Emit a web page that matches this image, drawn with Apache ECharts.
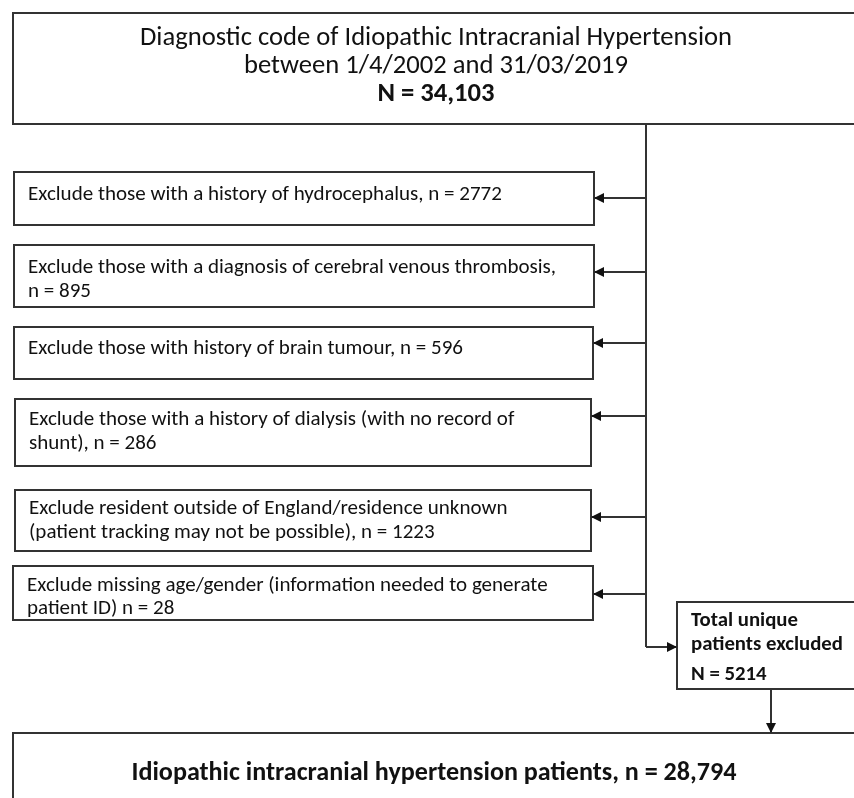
<!DOCTYPE html>
<html><head><meta charset="utf-8">
<script src="https://cdn.jsdelivr.net/npm/echarts@6/dist/echarts.min.js"></script>
<style>html,body{margin:0;padding:0;background:#fff}#c{width:854px;height:798px}</style>
</head><body><div id="c"></div>
<script>
// ---------------- data ----------------
const totalCoded = 34103;
const periodStart = '1/4/2002';
const periodEnd = '31/03/2019';
const exclusionTemplates = [
  ['Exclude those with a history of hydrocephalus, n = {n}'],
  ['Exclude those with a diagnosis of cerebral venous thrombosis,', 'n = {n}'],
  ['Exclude those with history of brain tumour, n = {n}'],
  ['Exclude those with a history of dialysis (with no record of', 'shunt), n = {n}'],
  ['Exclude resident outside of England/residence unknown', '(patient tracking may not be possible), n = {n}'],
  ['Exclude missing age/gender (information needed to generate', 'patient ID) n = {n}']
];
const exclusionCounts = [2772, 895, 596, 286, 1223, 28];
const totalExcluded = 5214;
const finalCount = 28794;

// ---------------- layout (positions in chart units = px) ----------------
const topBox = [13, 13, 862, 124];
const topBaselines = [44, 72, 100];
const topCenterX = 436;
const exclBoxes = [[14,172,594,225],[14,245,594,307],[14,327,593,379],[15,399,591,466],[15,490,591,551],[13,566,593,620]];
const exclBaselines = [[199],[272,296],[353],[424,448],[513,537],[590,613]];
const exclArrowY = [198,272,343,416,517,594];
const spineX = 646;
const totalBox = [677, 602, 862, 689];
const totalBaselines = [625, 649, 679];
const bottomBox = [13, 733, 862, 806];
const bottomBaseline = 779;
const bottomCenterX = 434;
const downX = 771;

// ---------------- fonts ----------------
const FAMILY = 'Carlito, Lato, sans-serif';
const mctx = document.createElement('canvas').getContext('2d');
function fitSize(text, weight, target) { mctx.font = weight + ' 100px ' + FAMILY; return 100 * target / mctx.measureText(text).width; }
function midOffset(weight, size) {
  mctx.font = weight + ' ' + size + 'px ' + FAMILY; mctx.textBaseline = 'alphabetic';
  const m = mctx.measureText('Hx');
  let off = 0.38 * size;
  if (m.fontBoundingBoxAscent !== undefined) off = (m.fontBoundingBoxAscent - m.fontBoundingBoxDescent) / 2;
  return off - 3;
}
const fmt = v => v.toLocaleString('en-GB');

const topLines = ['Diagnostic code of Idiopathic Intracranial Hypertension', 'between ' + periodStart + ' and ' + periodEnd, 'N = ' + fmt(totalCoded)];
const exclLines = exclusionTemplates.map((t, i) => t.map(s => s.replace('{n}', exclusionCounts[i])));
const totalLines = ['Total unique', 'patients excluded', 'N = ' + totalExcluded];
const bottomLine = 'Idiopathic intracranial hypertension patients, n = ' + fmt(finalCount);

const topSize = fitSize(topLines[0], 'normal', 592);
const exclSize = fitSize(exclLines[0][0], 'normal', 474);
const totalSize = fitSize(totalLines[1], 'bold', 152);
const bottomSize = fitSize(bottomLine, 'bold', 605);

// ---------------- build marks ----------------
const rects = [topBox].concat(exclBoxes, [totalBox, bottomBox]);
const segs = [[spineX, topBox[3], spineX, 647, 0]];
exclBoxes.forEach((b, i) => segs.push([spineX, exclArrowY[i], b[2], exclArrowY[i], 1]));
segs.push([spineX, 647, totalBox[0], 647, 1]);
segs.push([downX, totalBox[3], downX, bottomBox[1], 1]);

const texts = []; // {value:[x, baseline], text, weight, size, align}
topLines.forEach((t, i) => texts.push({ value: [topCenterX, topBaselines[i]], text: t, weight: i === 2 ? 'bold' : 'normal', size: topSize, align: 'center' }));
exclLines.forEach((ls, i) => ls.forEach((t, j) => texts.push({ value: [exclBoxes[i][0] + 14, exclBaselines[i][j]], text: t, weight: 'normal', size: exclSize, align: 'left' })));
totalLines.forEach((t, i) => texts.push({ value: [totalBox[0] + 14, totalBaselines[i]], text: t, weight: 'bold', size: totalSize, align: 'left' }));
texts.push({ value: [bottomCenterX, bottomBaseline], text: bottomLine, weight: 'bold', size: bottomSize, align: 'center' });

const STROKE = '#333333';
const chart = echarts.init(document.getElementById('c'), null, { renderer: 'canvas' });
chart.setOption({
  animation: false,
  backgroundColor: '#ffffff',
  grid: { left: 0, right: 0, top: 0, bottom: 0 },
  xAxis: { type: 'value', min: 0, max: 854, show: false },
  yAxis: { type: 'value', min: 0, max: 798, inverse: true, show: false },
  series: [
    {
      type: 'custom', name: 'boxes', clip: false, encode: { x: [0, 2], y: [1, 3] },
      data: rects,
      renderItem: (p, api) => {
        const a = api.coord([api.value(0), api.value(1)]);
        const b = api.coord([api.value(2), api.value(3)]);
        return { type: 'rect', shape: { x: a[0], y: a[1], width: b[0] - a[0], height: b[1] - a[1] },
          style: { fill: '#fff', stroke: STROKE, lineWidth: 2 } };
      }
    },
    {
      type: 'custom', name: 'connectors', clip: false, encode: { x: [0, 2], y: [1, 3] },
      data: segs,
      renderItem: (p, api) => {
        const a = api.coord([api.value(0), api.value(1)]);
        const b = api.coord([api.value(2), api.value(3)]);
        const children = [{ type: 'line', shape: { x1: a[0], y1: a[1], x2: b[0], y2: b[1] }, style: { stroke: STROKE, lineWidth: 2 } }];
        if (api.value(4)) {
          const dx = b[0] - a[0], dy = b[1] - a[1], L = Math.hypot(dx, dy);
          const ux = dx / L, uy = dy / L, len = 10, hw = 5;
          const bx = b[0] - ux * len, by = b[1] - uy * len;
          children.push({ type: 'polygon', shape: { points: [[b[0], b[1]], [bx - uy * hw, by + ux * hw], [bx + uy * hw, by - ux * hw]] }, style: { fill: '#111' } });
        }
        return { type: 'group', children };
      }
    },
    {
      type: 'custom', name: 'texts', clip: false, encode: { x: 0, y: 1 },
      data: texts.map(t => ({ value: t.value, name: t.text })),
      renderItem: (p, api) => {
        const t = texts[p.dataIndex];
        const pt = api.coord([api.value(0), api.value(1)]);
        const off = midOffset(t.weight, t.size);
        return { type: 'text', x: pt[0], y: pt[1] - off,
          style: { text: t.text, font: t.weight + ' ' + t.size.toFixed(2) + 'px ' + FAMILY, fill: '#111', align: t.align, verticalAlign: 'middle' } };
      }
    }
  ]
});
</script></body></html>
